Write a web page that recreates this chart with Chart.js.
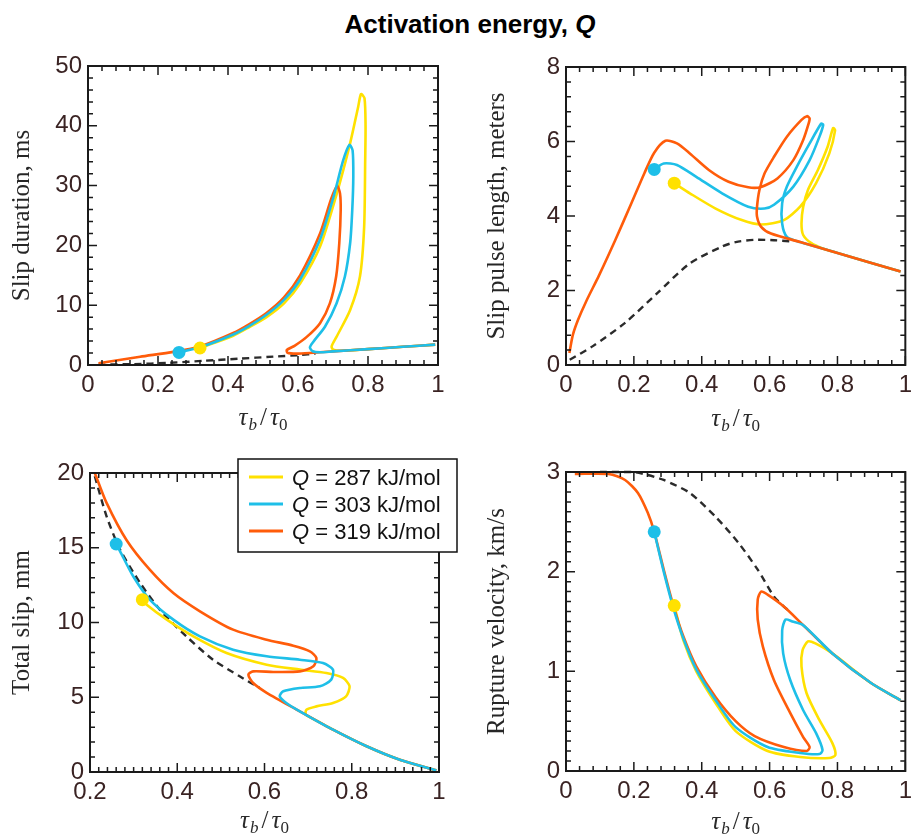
<!DOCTYPE html>
<html>
<head>
<meta charset="utf-8">
<script src="https://cdn.jsdelivr.net/npm/chart.js@4.4.1/dist/chart.umd.min.js"></script>
<style>
  body { margin: 0; width: 918px; height: 834px; background: #fff; position: relative; overflow: hidden; }
  #title { position: absolute; top: 9px; left: 470px; transform: translateX(-50%); white-space: nowrap;
           font: bold 26px "Liberation Sans", Arial, sans-serif; line-height: 30px; color: #000; }
  .panel { position: absolute; }
</style>
</head>
<body>
<div id="title">Activation energy, <i>Q</i></div>
<canvas class="panel" id="duration" width="460" height="400" style="left:0;top:40px"></canvas>
<canvas class="panel" id="pulse" width="458" height="400" style="left:460px;top:40px"></canvas>
<canvas class="panel" id="slip" width="460" height="394" style="left:0;top:440px"></canvas>
<canvas class="panel" id="velocity" width="458" height="394" style="left:460px;top:440px"></canvas>
<script>
// activation energies (kJ/mol) for the three runs
const energies = [287, 303, 319];

// slip duration, ms  vs  tau_b / tau_0
const durDashed = [[0.03,0.05],[0.13,0.15],[0.23,0.35],[0.33,0.7],[0.43,1.05],[0.53,1.4],[0.606,1.67],[0.65,1.9]];
const durYellow = [[0.32,2.84],[0.415,4.9],[0.46,6.3],[0.51,8.0],[0.56,10.3],[0.606,13.6],[0.663,19.8],[0.71,28.5],[0.749,37.1],[0.772,43.2],[0.78,45.3],[0.79,44.6],[0.793,40.0],[0.792,34.3],[0.789,23.1],[0.777,14.8],[0.749,9.2],[0.71,4.7],[0.696,3.1],[0.701,2.55],[0.725,2.38],[0.8,2.66],[0.9,3.04],[0.992,3.4]];
const durCyan = [[0.26,2.1],[0.32,2.95],[0.415,5.1],[0.46,6.5],[0.51,8.4],[0.56,10.9],[0.606,14.3],[0.663,21.0],[0.701,28.0],[0.729,34.2],[0.747,36.8],[0.756,35.9],[0.758,31.5],[0.755,25.9],[0.749,20.4],[0.734,14.8],[0.71,10.3],[0.677,6.4],[0.644,3.9],[0.634,2.95],[0.642,2.3],[0.663,2.13],[0.7,2.28],[0.8,2.66],[0.9,3.04],[0.992,3.4]];
const durOrange = [[0.03,0.28],[0.149,1.39],[0.244,2.2],[0.32,3.1],[0.415,5.35],[0.46,6.8],[0.51,8.7],[0.56,11.3],[0.606,15.0],[0.663,22.0],[0.695,27.8],[0.712,29.9],[0.72,28.7],[0.722,25.9],[0.718,20.4],[0.709,14.8],[0.691,10.3],[0.663,7.0],[0.625,4.7],[0.59,3.2],[0.568,2.5],[0.57,2.05],[0.595,1.9],[0.644,2.06],[0.7,2.28],[0.8,2.66],[0.9,3.04],[0.992,3.4]];

// slip pulse length, meters
const lenDashed = [[0.011,0.14],[0.078,0.5],[0.174,1.13],[0.269,1.93],[0.365,2.73],[0.46,3.18],[0.5,3.3],[0.556,3.36],[0.613,3.35],[0.66,3.32]];
const lenYellow = [[0.319,4.88],[0.365,4.61],[0.441,4.2],[0.518,3.89],[0.575,3.77],[0.642,3.89],[0.69,4.25],[0.737,4.88],[0.776,5.68],[0.793,6.3],[0.787,6.36],[0.771,5.86],[0.742,5.23],[0.713,4.7],[0.699,4.25],[0.694,3.8],[0.699,3.49],[0.723,3.27],[0.756,3.13],[0.8,3.01],[0.9,2.74],[0.986,2.51]];
const lenCyan = [[0.26,5.25],[0.288,5.41],[0.327,5.37],[0.384,5.05],[0.46,4.61],[0.537,4.25],[0.585,4.2],[0.613,4.3],[0.67,4.79],[0.718,5.5],[0.747,6.13],[0.758,6.45],[0.752,6.48],[0.718,5.95],[0.68,5.32],[0.651,4.79],[0.637,4.34],[0.637,3.8],[0.651,3.44],[0.69,3.3],[0.8,3.01],[0.9,2.74],[0.986,2.51]];
const lenOrange = [[0.01,0.32],[0.02,0.8],[0.035,1.2],[0.06,1.72],[0.097,2.4],[0.145,3.35],[0.193,4.35],[0.231,5.15],[0.26,5.7],[0.293,6.02],[0.327,5.95],[0.365,5.68],[0.422,5.23],[0.479,4.92],[0.537,4.77],[0.575,4.78],[0.623,5.01],[0.67,5.5],[0.699,6.04],[0.714,6.45],[0.718,6.62],[0.71,6.68],[0.694,6.58],[0.651,6.13],[0.613,5.59],[0.585,5.14],[0.57,4.7],[0.563,4.25],[0.563,3.98],[0.575,3.71],[0.604,3.53],[0.69,3.3],[0.8,3.01],[0.9,2.74],[0.986,2.51]];

// total slip, mm
const slipDashed = [[0.211,19.78],[0.238,17.1],[0.269,14.87],[0.315,12.64],[0.36,10.86],[0.421,9.07],[0.482,7.51],[0.543,6.4],[0.589,5.62]];
const slipYellow = [[0.32,11.53],[0.33,11.19],[0.376,10.19],[0.437,9.07],[0.513,7.96],[0.605,7.18],[0.681,6.85],[0.742,6.62],[0.78,6.29],[0.795,5.73],[0.787,5.06],[0.757,4.62],[0.719,4.39],[0.696,4.17],[0.695,3.84],[0.719,3.44],[0.757,2.83],[0.834,1.72],[0.91,0.82],[0.994,0.11]];
const slipCyan = [[0.26,15.25],[0.269,14.76],[0.299,13.09],[0.337,11.53],[0.391,10.19],[0.452,9.07],[0.528,8.18],[0.605,7.74],[0.681,7.51],[0.734,7.29],[0.757,6.85],[0.753,6.18],[0.727,5.73],[0.681,5.62],[0.643,5.4],[0.635,5.06],[0.65,4.62],[0.681,4.06],[0.757,2.83],[0.834,1.72],[0.91,0.82],[0.994,0.11]];
const slipOrange = [[0.211,20.0],[0.238,18.0],[0.284,15.5],[0.337,13.53],[0.391,11.97],[0.452,10.75],[0.528,9.52],[0.605,8.85],[0.666,8.45],[0.704,8.07],[0.719,7.62],[0.712,7.07],[0.681,6.73],[0.62,6.69],[0.574,6.73],[0.563,6.51],[0.574,5.95],[0.605,5.3],[0.681,4.06],[0.757,2.83],[0.834,1.72],[0.91,0.82],[0.994,0.11]];

// rupture velocity, km/s
const velDashed = [[0.1,3.0],[0.198,3.0],[0.241,2.97],[0.288,2.92],[0.365,2.79],[0.441,2.55],[0.508,2.29],[0.565,2.02],[0.613,1.75],[0.642,1.65],[0.66,1.6]];
const velYellow = [[0.319,1.66],[0.346,1.31],[0.384,1.0],[0.441,0.68],[0.5,0.4],[0.594,0.2],[0.69,0.14],[0.776,0.13],[0.794,0.16],[0.785,0.28],[0.747,0.51],[0.709,0.78],[0.694,1.05],[0.697,1.21],[0.713,1.3],[0.735,1.28],[0.785,1.18],[0.9,0.88],[0.986,0.71]];
const velCyan = [[0.26,2.4],[0.288,2.0],[0.317,1.63],[0.346,1.33],[0.384,1.02],[0.441,0.71],[0.5,0.44],[0.594,0.24],[0.69,0.18],[0.747,0.17],[0.756,0.21],[0.737,0.38],[0.699,0.61],[0.661,0.91],[0.64,1.18],[0.637,1.41],[0.647,1.52],[0.667,1.5],[0.7,1.46],[0.785,1.18],[0.9,0.88],[0.986,0.71]];
const velOrange = [[0.026,2.98],[0.126,2.98],[0.174,2.92],[0.212,2.79],[0.241,2.59],[0.26,2.4],[0.288,2.02],[0.317,1.65],[0.346,1.35],[0.384,1.05],[0.441,0.74],[0.5,0.5],[0.556,0.35],[0.642,0.24],[0.709,0.2],[0.718,0.24],[0.699,0.34],[0.661,0.58],[0.613,0.91],[0.58,1.25],[0.565,1.52],[0.565,1.72],[0.575,1.8],[0.594,1.77],[0.642,1.65],[0.7,1.46],[0.785,1.18],[0.9,0.88],[0.986,0.71]];

const YELLOW = '#FFE100';
const CYAN = '#1EBFE8';
const ORANGE = '#FF5C0A';
const DASH = '#2b2b2b';
const TICK_COLOR = '#3a2323';

function curve(points, color, dashed) {
    return {
        data: points.map(([x, y]) => ({x, y})),
        showLine: true,
        borderColor: color,
        borderWidth: dashed ? 2.4 : 2.6,
        borderDash: dashed ? [7, 5] : [],
        tension: 0.25,
        pointRadius: 0,
        clip: false,
        fill: false
    };
}

// start markers: first point of the yellow and cyan runs
function dots(yellow, cyan) {
    return {
        data: [yellow[0], cyan[0]].map(([x, y]) => ({x, y})),
        showLine: false,
        pointRadius: 6.5,
        pointBorderWidth: 0,
        pointBackgroundColor: [YELLOW, CYAN],
        clip: false
    };
}

function drawTauRatio(ctx, cx, base) {
    const parts = [
        {t: '\u03C4', f: 'italic 25px "Liberation Serif"', dy: 0, gap: 0},
        {t: 'b', f: 'italic 17px "Liberation Serif"', dy: 5, gap: 1},
        {t: '/', f: '25px "Liberation Serif"', dy: 0, gap: 3},
        {t: '\u03C4', f: 'italic 25px "Liberation Serif"', dy: 0, gap: 3},
        {t: '0', f: '17px "Liberation Serif"', dy: 5, gap: 0}
    ];
    let total = 0;
    parts.forEach(p => { ctx.font = p.f; p.w = ctx.measureText(p.t).width; total += p.w + p.gap; });
    let x = cx - total / 2;
    ctx.fillStyle = '#2a2a2a';
    ctx.textBaseline = 'alphabetic';
    ctx.textAlign = 'left';
    parts.forEach(p => {
        x += p.gap;
        ctx.font = p.f;
        ctx.fillText(p.t, x, base + p.dy);
        x += p.w;
    });
}

// box, inward major/minor ticks on all four sides and the x title
const frame = {
    id: 'frame',
    afterDatasetsDraw(chart, args, o) {
        const {ctx, chartArea: a} = chart;
        const sx = chart.scales.x, sy = chart.scales.y;
        ctx.save();
        ctx.strokeStyle = '#1a1a1a';
        ctx.lineWidth = 1.5;
        ctx.beginPath();
        let n = Math.round((sx.max - sx.min) / o.xMinor);
        for (let i = 0; i <= n; i++) {
            const v = sx.min + i * o.xMinor;
            const px = sx.getPixelForValue(v);
            const len = Math.abs(v / o.xMajor - Math.round(v / o.xMajor)) < 1e-6 ? 9 : 5;
            ctx.moveTo(px, a.bottom); ctx.lineTo(px, a.bottom - len);
            ctx.moveTo(px, a.top); ctx.lineTo(px, a.top + len);
        }
        n = Math.round((sy.max - sy.min) / o.yMinor);
        for (let i = 0; i <= n; i++) {
            const v = sy.min + i * o.yMinor;
            const py = sy.getPixelForValue(v);
            const len = Math.abs(v / o.yMajor - Math.round(v / o.yMajor)) < 1e-6 ? 9 : 5;
            ctx.moveTo(a.left, py); ctx.lineTo(a.left + len, py);
            ctx.moveTo(a.right, py); ctx.lineTo(a.right - len, py);
        }
        ctx.stroke();
        ctx.lineWidth = 2;
        ctx.strokeRect(a.left, a.top, a.right - a.left, a.bottom - a.top);
        drawTauRatio(ctx, (a.left + a.right) / 2, o.titleBase);
        ctx.restore();
    }
};

// boxed legend drawn over the top right of the total slip panel
const qLegend = {
    id: 'qLegend',
    afterDraw(chart, args, o) {
        if (!o.show) return;
        const {ctx} = chart;
        const [bx, by, bw, bh] = o.box;
        ctx.save();
        ctx.fillStyle = '#fff';
        ctx.fillRect(bx, by, bw, bh);
        ctx.strokeStyle = '#111';
        ctx.lineWidth = 1.5;
        ctx.strokeRect(bx, by, bw, bh);
        ctx.textBaseline = 'alphabetic';
        ctx.textAlign = 'left';
        energies.forEach((q, i) => {
            const cy = by + 18 + i * 27;
            ctx.strokeStyle = [YELLOW, CYAN, ORANGE][i];
            ctx.lineWidth = 3;
            ctx.beginPath();
            ctx.moveTo(bx + 11, cy); ctx.lineTo(bx + 45, cy);
            ctx.stroke();
            ctx.fillStyle = '#111';
            ctx.font = 'italic 22px "Liberation Sans"';
            ctx.fillText('Q', bx + 54, cy + 8);
            const w = ctx.measureText('Q').width;
            ctx.font = '22px "Liberation Sans"';
            ctx.fillText(' = ' + q + ' kJ/mol', bx + 54 + w, cy + 8);
        });
        ctx.restore();
    }
};

const plainNumber = v => String(+v.toFixed(2));

function makePanel(id, cfg) {
    return new Chart(document.getElementById(id), {
        type: 'scatter',
        data: {datasets: cfg.datasets},
        options: {
            responsive: false,
            animation: false,
            events: [],
            layout: {padding: {top: cfg.padTop, right: cfg.padRight, left: 0, bottom: 0}},
            plugins: {
                legend: {display: false},
                tooltip: {enabled: false},
                frame: cfg.frame,
                qLegend: cfg.legend || {show: false}
            },
            scales: {
                x: {
                    type: 'linear',
                    min: cfg.xMin, max: 1,
                    grid: {display: false, drawTicks: false},
                    border: {display: false},
                    ticks: {stepSize: 0.2, color: TICK_COLOR, padding: 6, maxRotation: 0, autoSkip: false,
                            font: {family: 'Liberation Sans', size: 24}, callback: plainNumber},
                    afterFit: s => { s.height = cfg.xHeight; }
                },
                y: {
                    type: 'linear',
                    min: 0, max: cfg.yMax,
                    grid: {display: false, drawTicks: false},
                    border: {display: false},
                    ticks: {stepSize: cfg.yStep, color: TICK_COLOR, padding: 6, autoSkip: false,
                            font: {family: 'Liberation Sans', size: 24}, callback: plainNumber},
                    title: {display: true, text: cfg.yLabel, color: '#262626',
                            font: {family: 'Liberation Serif', size: 25},
                            padding: {top: cfg.yTitlePad, bottom: 0}},
                    afterFit: s => { s.width = cfg.yWidth; }
                }
            }
        },
        plugins: [frame, qLegend]
    });
}

makePanel('duration', {
    datasets: [dots(durYellow, durCyan), curve(durCyan, CYAN), curve(durOrange, ORANGE),
               curve(durYellow, YELLOW), curve(durDashed, DASH, true)],
    padTop: 26, padRight: 22, yWidth: 88, xHeight: 75, xMin: 0, yMax: 50, yStep: 10,
    yLabel: 'Slip duration, ms', yTitlePad: 7,
    frame: {xMinor: 0.04, xMajor: 0.2, yMinor: 2, yMajor: 10, titleBase: 385}
});

makePanel('pulse', {
    datasets: [dots(lenYellow, lenCyan), curve(lenOrange, ORANGE), curve(lenCyan, CYAN),
               curve(lenYellow, YELLOW), curve(lenDashed, DASH, true)],
    padTop: 27, padRight: 3, yWidth: 106, xHeight: 75, xMin: 0, yMax: 8, yStep: 2,
    yLabel: 'Slip pulse length, meters', yTitlePad: 22,
    frame: {xMinor: 0.04, xMajor: 0.2, yMinor: 0.4, yMajor: 2, titleBase: 386}
});

makePanel('slip', {
    datasets: [dots(slipYellow, slipCyan), curve(slipCyan, CYAN), curve(slipOrange, ORANGE),
               curve(slipYellow, YELLOW), curve(slipDashed, DASH, true)],
    padTop: 33, padRight: 21, yWidth: 90, xHeight: 62, xMin: 0.2, yMax: 20, yStep: 5,
    yLabel: 'Total slip, mm', yTitlePad: 7,
    frame: {xMinor: 0.02, xMajor: 0.2, yMinor: 1, yMajor: 5, titleBase: 388},
    legend: {show: true, box: [238, 19, 219, 93]}
});

makePanel('velocity', {
    datasets: [dots(velYellow, velCyan), curve(velCyan, CYAN), curve(velOrange, ORANGE),
               curve(velYellow, YELLOW), curve(velDashed, DASH, true)],
    padTop: 32, padRight: 3, yWidth: 106, xHeight: 63, xMin: 0, yMax: 3, yStep: 1,
    yLabel: 'Rupture velocity, km/s', yTitlePad: 22,
    frame: {xMinor: 0.04, xMajor: 0.2, yMinor: 0.1, yMajor: 1, titleBase: 389}
});
</script>
</body>
</html>
